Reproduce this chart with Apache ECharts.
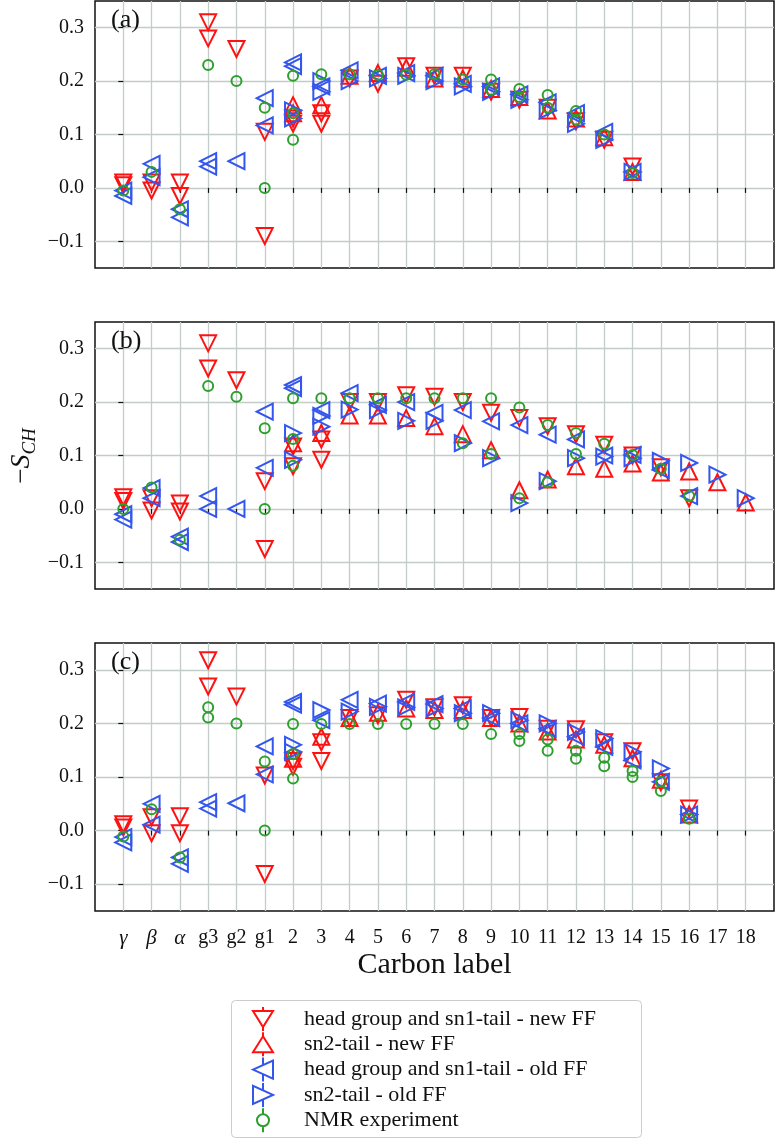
<!DOCTYPE html>
<html><head><meta charset="utf-8">
<script src="https://cdn.jsdelivr.net/npm/echarts@6/dist/echarts.min.js"></script>
<style>html,body{margin:0;padding:0;background:#fff}#c{width:776px;height:1139px}</style>
</head><body><div id="c"></div>
<script>
const categories = ['γ','β','α','g3','g2','g1','2','3','4','5','6','7','8','9','10','11','12','13','14','15','16','17','18'];
const yTicks = [-0.1, 0.0, 0.1, 0.2, 0.3];
const seriesNames = ['head group and sn1-tail - new FF','sn2-tail - new FF','head group and sn1-tail - old FF','sn2-tail - old FF','NMR experiment'];

// Panel (a)
const a_new_sn1 = [['γ',0.01],['γ',0.005],['β',0.01],['β',-0.005],['α',0.01],['α',-0.015],['g3',0.31],['g3',0.28],['g2',0.26],['g1',0.105],['g1',-0.09],['2',0.12],['2',0.13],['3',0.14],['3',0.12],['4',0.205],['5',0.195],['6',0.228],['7',0.21],['8',0.21],['9',0.18],['10',0.165],['11',0.15],['12',0.125],['13',0.09],['14',0.04]];
const a_new_sn2 = [['2',0.155],['2',0.14],['3',0.155],['4',0.21],['5',0.215],['6',0.225],['7',0.205],['8',0.205],['9',0.185],['10',0.17],['11',0.145],['12',0.13],['13',0.095],['14',0.03]];
const a_old_sn1 = [['γ',-0.005],['γ',-0.015],['β',0.045],['β',0.02],['α',-0.04],['α',-0.055],['g3',0.05],['g3',0.04],['g2',0.05],['g1',0.168],['g1',0.117],['2',0.235],['2',0.228],['3',0.19],['4',0.22],['5',0.21],['6',0.215],['7',0.21],['8',0.195],['9',0.19],['10',0.175],['11',0.16],['12',0.14],['13',0.105],['14',0.03]];
const a_old_sn2 = [['2',0.145],['2',0.13],['3',0.2],['3',0.18],['4',0.2],['5',0.205],['6',0.21],['7',0.2],['8',0.19],['9',0.18],['10',0.165],['11',0.145],['12',0.12],['13',0.09],['14',0.03]];
const a_nmr = [['γ',-0.005],['β',0.03],['α',-0.04],['g3',0.23],['g2',0.2],['g1',0.15],['g1',0.0],['2',0.21],['2',0.14],['2',0.09],['3',0.213],['4',0.213],['5',0.212],['6',0.212],['7',0.213],['8',0.203],['9',0.203],['9',0.184],['10',0.185],['10',0.17],['11',0.174],['11',0.15],['12',0.144],['12',0.128],['13',0.10],['14',0.028]];

// Panel (b)
const b_new_sn1 = [['γ',0.022],['γ',0.015],['β',0.02],['β',-0.003],['α',0.01],['α',-0.005],['g3',0.31],['g3',0.263],['g2',0.241],['g1',0.052],['g1',-0.075],['2',0.117],['2',0.08],['3',0.13],['3',0.092],['4',0.2],['5',0.2],['6',0.213],['7',0.21],['8',0.2],['9',0.18],['10',0.17],['11',0.155],['12',0.14],['13',0.12],['14',0.1],['15',0.078],['16',0.02]];
const b_new_sn2 = [['2',0.123],['3',0.142],['4',0.175],['5',0.175],['6',0.17],['7',0.155],['8',0.14],['9',0.11],['10',0.035],['11',0.055],['12',0.08],['13',0.075],['14',0.085],['15',0.068],['16',0.07],['17',0.05],['18',0.012]];
const b_old_sn1 = [['γ',-0.01],['γ',-0.02],['β',0.039],['β',0.02],['α',-0.052],['α',-0.062],['g3',0.024],['g3',0.0],['g2',0.0],['g1',0.182],['g1',0.077],['2',0.232],['2',0.226],['3',0.185],['4',0.217],['5',0.195],['6',0.2],['7',0.18],['8',0.185],['9',0.164],['10',0.157],['11',0.139],['12',0.13],['13',0.1],['14',0.101],['15',0.073],['16',0.024]];
const b_old_sn2 = [['2',0.142],['2',0.092],['3',0.174],['3',0.154],['4',0.186],['5',0.185],['6',0.165],['7',0.165],['8',0.123],['9',0.095],['10',0.011],['11',0.052],['12',0.095],['13',0.098],['14',0.095],['15',0.09],['16',0.086],['17',0.064],['18',0.02]];
const b_nmr = [['γ',0.0],['β',0.04],['α',-0.058],['g3',0.23],['g2',0.21],['g1',0.151],['g1',0.0],['2',0.207],['2',0.131],['2',0.081],['3',0.207],['4',0.207],['5',0.207],['6',0.207],['7',0.207],['8',0.207],['8',0.123],['9',0.207],['9',0.103],['10',0.19],['10',0.02],['11',0.157],['11',0.05],['12',0.142],['12',0.103],['13',0.122],['14',0.101],['15',0.075],['16',0.024]];

// Panel (c)
const c_new_sn1 = [['γ',0.012],['γ',0.006],['β',0.025],['β',-0.005],['α',0.027],['α',-0.005],['g3',0.318],['g3',0.269],['g2',0.25],['g1',0.103],['g1',-0.081],['2',0.119],['2',0.13],['3',0.165],['3',0.13],['4',0.21],['5',0.215],['6',0.244],['7',0.23],['8',0.234],['9',0.21],['10',0.212],['11',0.19],['12',0.189],['13',0.165],['14',0.148],['15',0.09],['16',0.041]];
const c_new_sn2 = [['2',0.134],['3',0.175],['4',0.21],['5',0.22],['6',0.228],['7',0.225],['8',0.225],['9',0.21],['10',0.2],['11',0.185],['12',0.17],['13',0.16],['14',0.135],['15',0.095],['16',0.03]];
const c_old_sn1 = [['γ',-0.012],['γ',-0.022],['β',0.05],['β',0.011],['α',-0.05],['α',-0.062],['g3',0.053],['g3',0.041],['g2',0.051],['g1',0.157],['g1',0.105],['2',0.24],['2',0.235],['3',0.206],['4',0.244],['5',0.237],['6',0.24],['7',0.236],['8',0.228],['9',0.21],['10',0.2],['11',0.19],['12',0.175],['13',0.156],['14',0.131],['15',0.091],['16',0.03]];
const c_old_sn2 = [['2',0.16],['2',0.147],['3',0.225],['4',0.222],['5',0.231],['6',0.23],['7',0.228],['8',0.219],['9',0.219],['10',0.206],['11',0.2],['12',0.184],['13',0.172],['14',0.147],['15',0.116],['16',0.03]];
const c_nmr = [['γ',-0.011],['β',0.04],['α',-0.05],['g3',0.23],['g3',0.211],['g2',0.2],['g1',0.129],['g1',0.0],['2',0.199],['2',0.143],['2',0.097],['3',0.199],['4',0.199],['5',0.199],['6',0.199],['7',0.199],['8',0.199],['9',0.18],['10',0.18],['10',0.167],['11',0.17],['11',0.149],['12',0.149],['12',0.134],['13',0.136],['13',0.12],['14',0.111],['14',0.1],['15',0.091],['15',0.074],['16',0.022]];

const panels = [
  [a_new_sn1, a_new_sn2, a_old_sn1, a_old_sn2, a_nmr],
  [b_new_sn1, b_new_sn2, b_old_sn1, b_old_sn2, b_nmr],
  [c_new_sn1, c_new_sn2, c_old_sn1, c_old_sn2, c_nmr]
];
const panelLabels = ['(a)','(b)','(c)'];

const RED = '#ff1111', BLUE = '#3356ee', GREEN = '#2ca02c';
const FONT = 'Liberation Serif';
const styles = [
  {sym:'path://M-1,-1 L1,-1 L0,1 Z', size:16, color:RED, icon:'path://M0,4 L20,4 L10,20 Z M10,0 L10,4 M10,20 L10,24'},
  {sym:'path://M0,-1 L1,1 L-1,1 Z', size:16, color:RED, icon:'path://M10,4 L20,20 L0,20 Z M10,0 L10,4 M10,20 L10,24'},
  {sym:'path://M-1,0 L1,-1 L1,1 Z', size:16, color:BLUE, icon:'path://M0,12 L20,3 L20,21 Z M10,0 L10,7.5 M10,16.5 L10,24'},
  {sym:'path://M1,0 L-1,-1 L-1,1 Z', size:16, color:BLUE, icon:'path://M20,12 L0,3 L0,21 Z M10,0 L10,7.5 M10,16.5 L10,24'},
  {sym:'circle', size:10, color:GREEN, icon:'path://M4,12 A6,6 0 1,1 16,12 A6,6 0 1,1 4,12 Z M10,0 L10,6 M10,18 L10,24'}
];

const gridPos = [{top:1,height:267},{top:322,height:267},{top:643,height:268}];
const xIdx = categories.map((c,i)=>i);
const grid = [], xAxis = [], yAxis = [], series = [];
const GRIDC = '#c3cbcb';
gridPos.forEach((g,i)=>{
  grid.push({left:95, width:679, top:g.top, height:g.height, show:true, borderColor:'#111', borderWidth:1.5, backgroundColor:'transparent'});
  const last = i === 2;
  xAxis.push({
    type:'value', gridIndex:i, min:-1, max:23,
    axisLine:{show:false},
    axisTick:{show:true, customValues:xIdx, length:5, lineStyle:{color:'#111', width:1.2}},
    axisLabel:{show:last, customValues:xIdx, margin:17, color:'#111', fontFamily:FONT, fontSize:20,
      formatter:(v)=>{ const c = categories[Math.round(v)]; return Math.round(v)<3 ? '{i|'+c+'}' : c; },
      rich:{i:{fontStyle:'italic', fontFamily:FONT, fontSize:21, color:'#111'}}},
    splitLine:{show:true, lineStyle:{color:GRIDC, width:1.3}},
    name: last ? 'Carbon label' : '', nameLocation:'middle', nameGap:36,
    nameTextStyle:{fontFamily:FONT, fontSize:30, color:'#111'}
  });
  yAxis.push({
    type:'value', gridIndex:i, min:-0.15, max:0.35,
    axisLine:{show:false},
    axisTick:{show:true, customValues:yTicks, length:5, lineStyle:{color:'#111', width:1.2}},
    axisLabel:{customValues:yTicks, margin:11, color:'#111', fontFamily:FONT, fontSize:20,
      formatter:(v)=> (v < -1e-9 ? '\u2212' : '') + Math.abs(v).toFixed(1)},
    splitLine:{show:true, lineStyle:{color:GRIDC, width:1.3}}
  });
  panels[i].forEach((arr, k)=>{
    const st = styles[k];
    series.push({
      type:'scatter', name:seriesNames[k], xAxisIndex:i, yAxisIndex:i,
      symbol:st.sym, symbolSize:st.size, silent:true,
      itemStyle:{color:'rgba(255,255,255,0)', borderColor:st.color, borderWidth:2, opacity:1},
      emphasis:{disabled:true},
      data: arr.map(p=>[categories.indexOf(p[0]), p[1]])
    });
  });
});

const graphic = [
  {type:'text', x:22, y:456, rotation:Math.PI/2, style:{
    text:'{m|\u2212}{s|S}{c|CH}', align:'center', verticalAlign:'middle',
    rich:{m:{fontFamily:FONT, fontSize:27, lineHeight:34, fill:'#111'},
          s:{fontFamily:FONT, fontSize:28, fontStyle:'italic', lineHeight:34, fill:'#111'},
          c:{fontFamily:FONT, fontSize:19, fontStyle:'italic', lineHeight:14, verticalAlign:'bottom', fill:'#111'}}}},
  {type:'rect', left:231, top:1000, shape:{width:410, height:137, r:4}, style:{fill:'#fff', stroke:'#cccccc', lineWidth:1}, z:-1}
];
gridPos.forEach((g,i)=>{
  graphic.push({type:'text', left:111, top:g.top+6, style:{text:panelLabels[i], fontFamily:FONT, fontSize:26, fill:'#111'}, z:10});
});

const chart = echarts.init(document.getElementById('c'), null, {renderer:'canvas'});
chart.setOption({
  animation:false,
  backgroundColor:'#fff',
  grid, xAxis, yAxis, series, graphic,
  legend:{
    show:true, type:'plain', orient:'vertical', left:252, top:1006, height:300, padding:0, itemGap:-0.7,
    itemWidth:20, itemHeight:24, selectedMode:false,
    data: seriesNames.map((n,k)=>({name:n, icon:styles[k].icon,
      itemStyle:{color:'rgba(255,255,255,0)', borderColor:styles[k].color, borderWidth:2}})),
    formatter:(n)=>'{sp|}' + n,
    textStyle:{fontFamily:FONT, fontSize:22, lineHeight:20, color:'#111', rich:{sp:{width:26, lineHeight:20, fontSize:22}}}
  }
});
</script></body></html>
